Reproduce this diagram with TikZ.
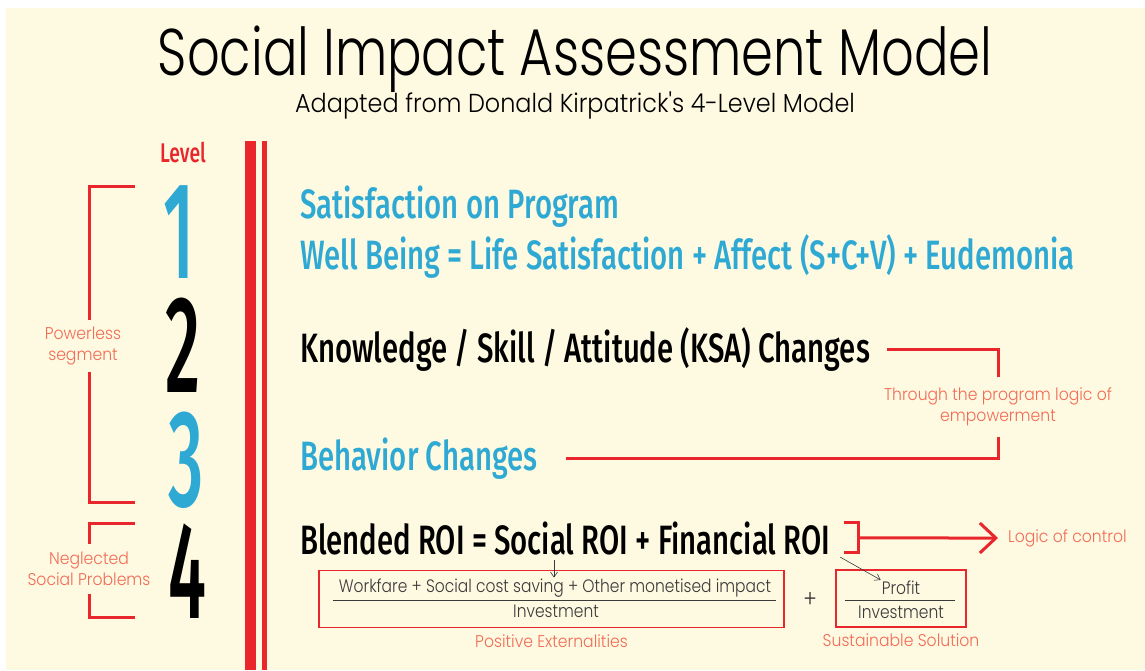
\documentclass[tikz,border=0pt]{standalone}
\usepackage{fontspec}
\newfontfamily\condfont{Fira Sans}[UprightFont=* Medium, FakeStretch=0.715]
\newfontfamily\numfont{Fira Sans}[UprightFont=* Medium, FakeStretch=0.5]
\newfontfamily\thinfont{Poppins}[UprightFont=* Light, FakeStretch=0.92]
\newfontfamily\fracfont{Poppins}[UprightFont=* Light, FakeStretch=0.86]
\newfontfamily\titlefont{Poppins}[UprightFont=* Light, FakeStretch=0.775]
\usetikzlibrary{positioning, arrows.meta}
\definecolor{bgcream}{HTML}{FEF9E1}
\definecolor{lvlred}{HTML}{E8262C}
\definecolor{lvlblue}{HTML}{2EA9D4}
\definecolor{notered}{HTML}{F26B55}
\definecolor{fracgray}{HTML}{3A3A3A}

\begin{document}
\begin{tikzpicture}[
    x=1pt, y=-1pt,
    lvlnum/.style={font=\numfont\fontsize{138}{138}\selectfont, anchor=base, inner sep=0},
    stmt/.style={font=\condfont\fontsize{41}{41}\selectfont, anchor=base west, inner sep=0},
    note/.style={font=\thinfont\fontsize{17}{21}\selectfont, text=notered, align=center, inner sep=0},
    frac/.style={font=\fracfont\fontsize{18}{18}\selectfont, text=fracgray, inner sep=1pt},
    bracket/.style={draw=lvlred, line width=3pt},
    box/.style={draw=lvlred, line width=1.6pt, minimum height=57pt},
    fracbar/.style={draw=fracgray, line width=1pt},
    pointer/.style={draw=fracgray, line width=0.6pt, -{Straight Barb[length=5pt, width=7pt]}}
]
    % page and background
    \useasboundingbox (0,0) rectangle (1145,670);
    \fill[bgcream] (6,8) rectangle (1145,670);

    % heading
    \node[font=\titlefont\fontsize{66}{66}\selectfont, anchor=base, inner sep=0] (title) at (575,75) {Social Impact Assessment Model};
    \node[font=\thinfont\fontsize{26}{26}\selectfont, anchor=base, inner sep=0] (subtitle) at (575,112) {Adapted from Donald Kirpatrick's 4-Level Model};

    % the double rule
    \fill[lvlred] (245,141) rectangle (256,670);
    \fill[lvlred] (262,141) rectangle (267,670);

    % levels
    \node[font=\condfont\fontsize{27}{27}\selectfont, text=lvlred, anchor=base, inner sep=0] (lvl) at (183,162) {Level};
    \node[lvlnum, text=lvlblue] (lvl1) at (179,278) {1};
    \node[lvlnum] (lvl2) at (183,392) {2};
    \node[lvlnum, text=lvlblue] (lvl3) at (186,506) {3};
    \node[lvlnum] (lvl4) at (187,618) {4};

    % segments on the left
    \node[note] (power) at (83,346) [minimum height=51pt] {Powerless\\segment};
    \draw[bracket] (135,186) -| ([xshift=6pt]power.north);
    \draw[bracket] ([xshift=6pt]power.south) |- (135,502);
    \node[note] (neglect) at (89,569) [minimum height=49pt] {Neglected\\Social Problems};
    \draw[bracket] (135,523) -| (neglect.north);
    \draw[bracket] (neglect.south) |- (135,617);

    % statements
    \node[stmt, text=lvlblue] (satis) at (300,218) {Satisfaction on Program};
    \node[stmt, text=lvlblue] (wellb) at (300,269) {Well Being = Life Satisfaction + Affect (S+C+V) + Eudemonia};
    \node[stmt] (know) at (300,362) {Knowledge / Skill / Attitude (KSA) Changes};
    \node[stmt, text=lvlblue] (behav) at (300,470) {Behavior Changes};
    \node[stmt] (blend) at (300,554) {Blended ROI = Social ROI + Financial ROI};

    % empowerment bracket
    \node[note] (empower) at (998,407) [minimum height=60pt] {Through the program logic of\\empowerment};
    \draw[bracket] ([xshift=17pt]know.east) -| (empower.north);
    \draw[bracket] ([xshift=28pt]behav.east) -| (empower.south);

    % control bracket and arrow
    \node[note, anchor=west] (control) at (1008,538) {Logic of control};
    \draw[bracket] ([shift={(13,-15)}]blend.east) -| ([shift={(28,15)}]blend.east) -- ([shift={(13,15)}]blend.east);
    \draw[bracket, -{Straight Barb[length=16pt, width=30pt]}] ([xshift=28pt]blend.east) -- ([xshift=-10pt]control.west);

    % social ROI fraction
    \node[box, minimum width=465pt] (sbox) at (551.5,599) {};
    \node[frac] (snum) at (555,588) {Workfare + Social cost saving + Other monetised impact};
    \node[frac] (sden) at (556,611) {Investment};
    \draw[fracbar] (333,600) -- (776,600);
    \node[note, below=6pt of sbox] (posext) {Positive Externalities};

    \node[frac, font=\fracfont\fontsize{24}{24}\selectfont] (plus) at (810,600) {+};

    % financial ROI fraction
    \node[box, minimum width=130pt] (fbox) at (901,598.5) {};
    \node[frac] (fnum) at (901,588) {Profit};
    \node[frac] (fden) at (901,612) {Investment};
    \draw[fracbar] (845,600) -- (955,600);
    \node[note, below=6pt of fbox] (sustain) {Sustainable Solution};

    % pointers from the ROI terms
    \coordinate (socroi) at (554,560);
    \coordinate (finroi) at (840,557);
    \draw[pointer] (socroi) -- (socroi |- snum.north);
    \draw[pointer] (finroi) -- (fnum.north west);
\end{tikzpicture}
\end{document}
